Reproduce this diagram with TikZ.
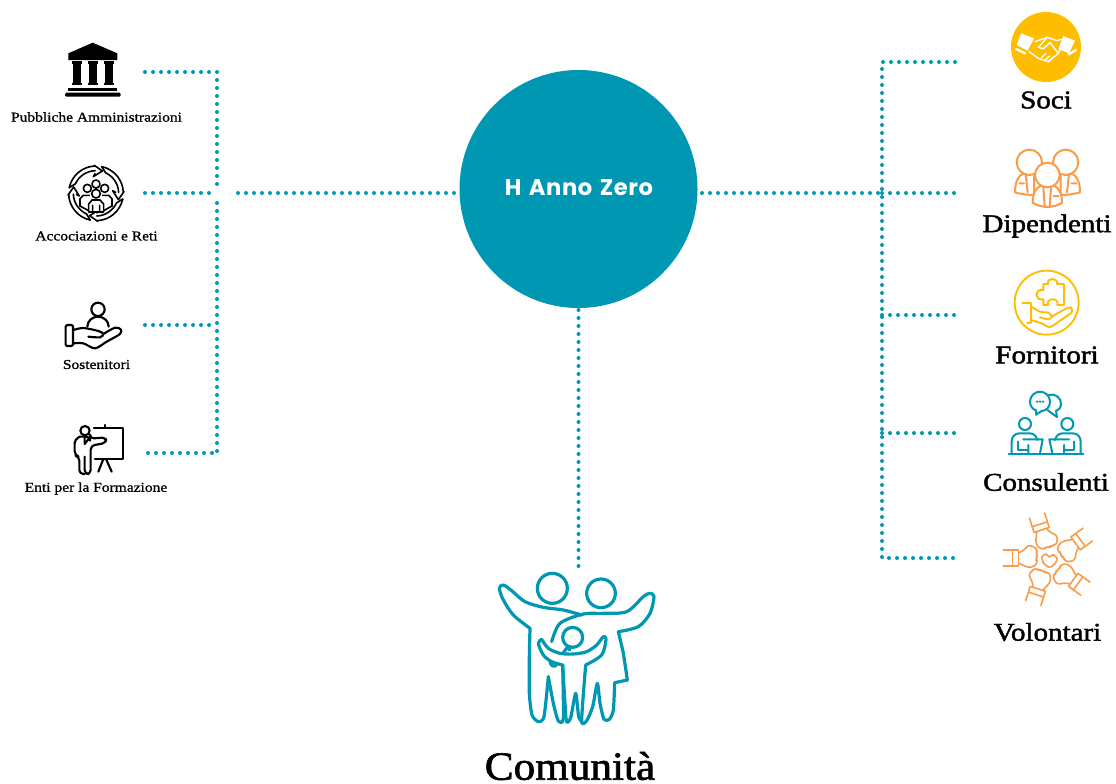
\documentclass[tikz,border=0pt]{standalone}
\usepackage{fontspec}
\setmainfont{Liberation Serif}
\newfontfamily\headfont[FakeStretch=1.14,FakeBold=1.7]{Liberation Serif}
\newfontfamily\comfont[FakeStretch=1.08,FakeBold=1.7]{Liberation Serif}
\newfontfamily\smallfont[FakeStretch=1.14,FakeBold=1.0]{Liberation Serif}
\newfontfamily\hubfont[LetterSpace=2.5,WordSpace=1.4]{Poppins}
\definecolor{teal}{HTML}{0097B2}
\definecolor{orng}{HTML}{F89B4A}
\definecolor{yell}{HTML}{FFBD00}
\tikzset{
  dotline/.style={draw=teal,line width=3pt,line cap=round,dash pattern=on 0pt off 6pt},
  zoomat/.style 2 args={shift={(#1*0.75pt,-#2*0.75pt)},x=0.25pt,y=-0.25pt},
  icon/.style={line join=round,line cap=round,line width=1.6pt},
  thinicon/.style={line join=round,line cap=round,line width=1.2pt},
  famline/.style={line join=round,line cap=round,line width=2.4pt,draw=teal},
  smalllabel/.style={inner sep=0pt,font=\smallfont\fontsize{10.2}{12}\selectfont,text=black},
  biglabel/.style={inner sep=0pt,font=\headfont\fontsize{19.1}{22}\selectfont,text=black},
}
\begin{document}
\begin{tikzpicture}[x=0.75pt,y=-0.75pt]
\useasboundingbox (0,0) rectangle (1116,783);
% hub and labels
\node[circle,fill=teal,minimum size=178.5pt,inner sep=0pt] (hub) at (578.5,189) {};
\node[inner sep=0pt,text=white,font=\hubfont\bfseries\fontsize{17}{18}\selectfont] (hubtxt) at (579,188) {H Anno Zero};
\node[smalllabel] (pa) at (96.5,117) {Pubbliche Amministrazioni};
\node[smalllabel] (ar) at (96.5,236) {Accociazioni e Reti};
\node[smalllabel] (so) at (96.5,364.5) {Sostenitori};
\node[smalllabel] (ef) at (96,488.5) {Enti per la Formazione};
\node[biglabel] (soci) at (1046,100) {Soci};
\node[biglabel] (dip) at (1047,226) {Dipendenti};
\node[biglabel] (forn) at (1047,355) {Fornitori};
\node[biglabel] (cons) at (1046,482) {Consulenti};
\node[biglabel] (vol) at (1047.5,632) {Volontari};
\node[inner sep=0pt,text=black,font=\comfont\fontsize{30}{32}\selectfont] (com) at (570,766) {Comunità};
% connector anchors
\coordinate (a1) at (145,72); \coordinate (a2) at (145,193);
\coordinate (a3) at (145,325); \coordinate (a4) at (148,453);
\coordinate (j1) at (217,72); \coordinate (j2) at (217,186);
\coordinate (j2b) at (217,203); \coordinate (j2c) at (213,193);
\coordinate (j3) at (213,325); \coordinate (j4) at (217,453);
\coordinate (lm) at (238,193); \coordinate (hl) at (458,193);
\coordinate (hr) at (702,193); \coordinate (rj) at (882,193);
\coordinate (r1) at (955,62); \coordinate (r2) at (955,193);
\coordinate (r3) at (955,315); \coordinate (r4) at (955,433); \coordinate (r5) at (955,558);
\coordinate (v1) at (882,62); \coordinate (v3) at (882,315); \coordinate (v4) at (882,433); \coordinate (v5) at (882,558);
\coordinate (hb) at (578.5,310); \coordinate (fam) at (578.5,570);
% connectors
\draw[dotline] (a1) -- (j1) -- (j2);
\draw[dotline] (a2) -- (j2c);
\draw[dotline] (j2b) -- (j4);
\draw[dotline] (a3) -- (j3);
\draw[dotline] (a4) -- (j4);
\draw[dotline] (lm) -- (hl);
\draw[dotline] (hr) -- (rj);
\draw[dotline] (r1) -- (v1) -- (v5) -- (r5);
\draw[dotline] (rj) -- (r2);
\draw[dotline] (v3) -- (r3);
\draw[dotline] (v4) -- (r4);
\draw[dotline] (hb) -- (fam);

% bank
\begin{scope}[zoomat={0}{20}]
\fill[black] (205,120) -- (205,100) -- (278,68) -- (352,100) -- (352,120) -- cycle;
\foreach \c in {231,279,327}{
  \fill[black] (\c-15,124) rectangle (\c+15,131);
  \fill[black] (\c-13,130) rectangle (\c+13,190);
  \fill[black] (\c-15,189) rectangle (\c+15,196);
}
\fill[black] (205,203) rectangle (352,213);
\fill[black,rounded corners=1pt] (195,218) rectangle (362,230);
\end{scope}
% associations
\begin{scope}[zoomat={0}{20},thinicon,draw=black]
\foreach \r in {0,-90,-180,-270}{
\begin{scope}[rotate around={\r:(288,520)}]
  \draw ({288+82*cos(168)},{520-82*sin(168)}) arc[start angle=-168,end angle=-92,radius=82];
  \draw ({288+68*cos(92)},{520-68*sin(92)}) arc[start angle=-92,end angle=-155,radius=68] -- ({288+82*cos(168)},{520-82*sin(168)});
  \draw (283,436) -- (307,453) -- (280,470) -- (285,461);
\end{scope}}
\draw (262,505) circle[radius=12] (288,492) circle[radius=12] (314,505) circle[radius=12] (288,521) circle[radius=13];
\draw (240,558) -- (240,536) -- (250,526) -- (268,526) (336,558) -- (336,536) -- (326,526) -- (308,526);
\draw[fill=white] (266,576) -- (266,552) -- (276,540) -- (300,540) -- (311,552) -- (311,576) -- cycle;
\draw (240,558) -- (266,572) (336,558) -- (311,572) (278,556) -- (278,576) (299,556) -- (299,576);
\end{scope}
% presenter
\begin{scope}[zoomat={0}{280},icon,draw=black]
\draw (255,452) circle[radius=14];
\draw (282,443) -- (370,443) -- (370,537) -- (285,537) (314,435) -- (314,443);
\draw (310,537) -- (295,575) (318,537) -- (335,575);
\draw[rounded corners=3pt] (240,470) -- (270,470) -- (270,476) -- (318,472) -- (318,489) -- (272,497) -- (272,582) -- (254,582) -- (254,530);
\draw[rounded corners=3pt] (254,582) -- (238,582) -- (238,530) -- (224,526) -- (224,478) -- (240,470);
\draw (254,470) -- (254,492) -- (268,474);
\end{scope}
% hand
\begin{scope}[zoomat={0}{280},icon,draw=black]
\draw (294,88) circle[radius=20];
\draw (262,140) arc[start angle=180,end angle=0,x radius=32,y radius=-30];
\draw[rounded corners=1pt] (197,135) rectangle (219,198);
\draw plot[smooth,tension=.5] coordinates {(220,150) (250,144) (295,153) (310,162) (300,172) (265,170)};
\draw plot[smooth,tension=.5] coordinates {(220,190) (250,190) (285,205) (320,185) (360,162) (362,148) (345,143) (310,162)};
\end{scope}
% Soci
\node[circle,fill=yell,minimum size=52.5pt,inner sep=0pt] (sociicon) at (1046,47) {};
\begin{scope}[zoomat={960}{0},icon,draw=white,line width=1.05pt]
\fill[white] (183,100) -- (222,115) -- (203,152) -- (170,135) -- cycle;
\fill[white] (310,108) -- (345,122) -- (327,160) -- (295,147) -- cycle;
\draw[line width=1.7pt] (168,147) -- (195,160) (326,163) -- (348,150);
\draw (225,125) -- (262,112) -- (290,122) -- (305,118);
\draw (207,155) -- (235,175) -- (265,185) -- (295,160) -- (301,147);
\draw (262,112) -- (235,142) -- (250,146) -- (270,128) -- (295,160);
\draw (245,172) -- (258,160) (255,180) -- (268,168) (265,185) -- (280,170);
\end{scope}
% Dipendenti
\begin{scope}[zoomat={960}{0},thinicon,draw=orng,line width=1.5pt]
\draw[fill=white] (165,577) .. controls (165,545) and (175,525) .. (195,518) -- (222,518) -- (222,585) .. controls (205,585) and (185,583) .. (165,577);
\draw[fill=white] (360,577) .. controls (360,545) and (350,525) .. (330,518) -- (302,518) -- (302,585) .. controls (320,585) and (340,583) .. (360,577);
\draw[fill=white] (208,487) circle[radius=38] (317,487) circle[radius=38];
\draw (197,522) -- (203,577) (327,522) -- (321,577) (178,550) -- (192,550) (334,550) -- (349,550);
\draw[fill=white] (218,608) .. controls (218,580) and (228,562) .. (245,555) -- (280,555) .. controls (296,562) and (306,580) .. (306,608) .. controls (280,625) and (245,625) .. (218,608);
\draw[fill=white] (262,525) circle[radius=37];
\draw (250,562) -- (254,620) (273,562) -- (269,620) (281,588) -- (296,588);
\end{scope}
% Fornitori
\begin{scope}[zoomat={960}{260},thinicon,draw=yell,line width=1.4pt]
\draw (260,128) circle[radius=96];
\draw (187,128) -- (212,128) -- (212,190) -- (201,190);
\draw plot[smooth,tension=.5] coordinates {(214,140) (240,155) (265,158) (275,170) (265,178) (240,172)};
\draw plot[smooth,tension=.5] coordinates {(214,180) (245,190) (270,201) (300,182) (335,157) (333,143) (318,146) (275,170)};
\draw (250,72) -- (264,72) .. controls (258,52) and (296,52) .. (291,72) -- (312,72) -- (312,135) -- (292,135) .. controls (300,112) and (256,112) .. (264,135) -- (250,135) -- (250,118) .. controls (222,124) and (222,84) .. (250,90) -- cycle;
\end{scope}
% Consulenti
\begin{scope}[zoomat={960}{260},thinicon,draw=teal,line width=1.5pt]
\draw (266,405) .. controls (285,398) and (305,415) .. (303,433) .. controls (302,445) and (295,450) .. (288,453) -- (291,471) -- (262,450);
\draw[fill=white] (240,395) .. controls (222,395) and (210,410) .. (210,425) .. controls (210,438) and (218,448) .. (228,451) -- (228,464) -- (245,453) .. controls (260,452) and (270,440) .. (270,425) .. controls (270,408) and (256,395) .. (240,395);
\fill[teal] (231,425) circle[radius=4] (240,425) circle[radius=4] (249,425) circle[radius=4];
\draw (195,492) circle[radius=18] (322,492) circle[radius=18];
\draw (155,578) -- (155,545) .. controls (155,530) and (165,520) .. (178,520) -- (210,520) .. controls (222,520) and (230,530) .. (232,540);
\draw (362,578) -- (362,545) .. controls (362,530) and (352,520) .. (339,520) -- (307,520) .. controls (295,520) and (287,530) .. (285,540);
\draw (175,545) -- (175,570) -- (205,570) (342,545) -- (342,570) -- (312,570);
\draw (190,538) -- (248,538) -- (240,580) (327,538) -- (268,538) -- (277,580) (205,578) -- (205,555) (312,578) -- (312,555);
\draw[line width=1.7pt] (146,582) -- (370,582);
\end{scope}
% Volontari
\begin{scope}[zoomat={960}{500},thinicon,draw=orng,line width=1.2pt]
\draw plot[smooth cycle,tension=.5] coordinates {(268,202) (250,188) (246,170) (258,162) (268,171) (279,164) (291,175) (286,189)};
\foreach \r in {0,-72,-144,-216,-288}{
\begin{scope}[rotate around={\r:(268,180)}]
 \draw (130,150) -- (175,150) -- (175,198) -- (130,198) (157,150) -- (157,198);
 \draw[rounded corners=2pt] (177,190) -- (205,203) -- (225,198) -- (233,185) -- (226,177) -- (234,168) -- (227,160) -- (233,150) -- (222,140) -- (205,135) -- (190,152) -- (177,158);
\end{scope}}
\end{scope}
% Family
\begin{scope}[zoomat={470}{550},famline]
\draw (247,115) circle[radius=45] (393,130) circle[radius=43];
\draw plot[smooth,tension=.5] coordinates {(335,195) (280,180) (220,172) (165,155) (125,122) (100,105) (88,115) (100,150) (130,195) (180,235)};
\draw plot[smooth,tension=.4] coordinates {(180,235) (178,320) (178,430) (186,495) (205,515) (222,500) (235,380)};
\draw plot[smooth,tension=.4] coordinates {(235,380) (250,460) (265,513) (280,505) (278,345)};
\draw plot[smooth,tension=.5] coordinates {(245,275) (270,220) (340,192) (400,190) (470,185) (520,140) (540,130) (552,140) (540,190) (505,230) (445,245)};
\draw plot[smooth,tension=.3] coordinates {(445,245) (460,310) (472,390)};
\draw (472,390) -- (434,398);
\draw plot[smooth,tension=.4] coordinates {(434,398) (430,480) (418,508) (402,508) (390,460) (382,400) (368,470) (350,512) (335,512) (347,345)};
\draw (308,262) circle[radius=30];
\draw plot[smooth,tension=.5] coordinates {(215,268) (235,295) (270,310) (310,312) (350,305) (380,285) (400,260) (408,268) (395,315) (347,345)};
\draw plot[smooth,tension=.5] coordinates {(215,268) (205,280) (220,315) (245,335) (278,345)};
\draw plot[smooth,tension=.4] coordinates {(278,345) (288,505) (295,515) (303,500) (317,430) (326,500) (335,515)};
\draw (240,335) .. controls (245,355) and (258,350) .. (262,340);
\draw (280,308) -- (292,292) -- (300,300);
\end{scope}
\end{tikzpicture}
\end{document}
